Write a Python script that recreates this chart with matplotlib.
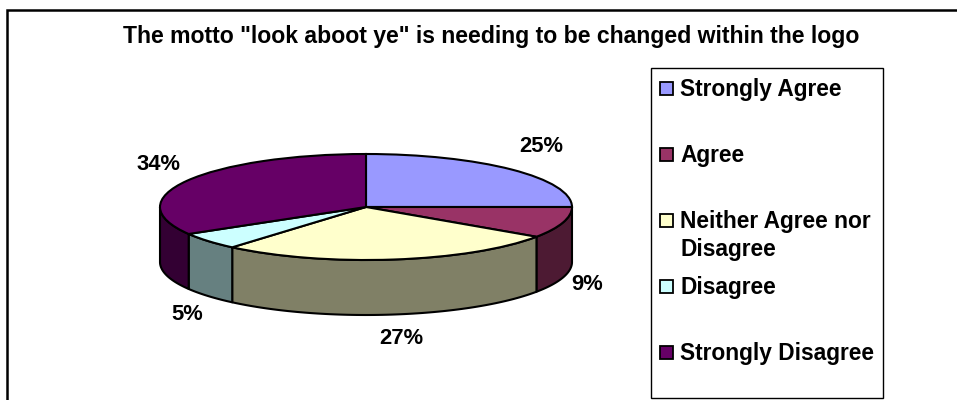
import numpy as np
import matplotlib
matplotlib.use('Agg')
import matplotlib.pyplot as plt
from matplotlib.patches import Rectangle

plt.rcParams['font.family'] = ['Liberation Sans', 'DejaVu Sans']
plt.rcParams['font.weight'] = 'bold'

title = 'The motto "look aboot ye" is needing to be changed within the logo'
categories = ['Strongly Agree', 'Agree', 'Neither Agree nor\nDisagree', 'Disagree', 'Strongly Disagree']
# unrounded shares, labels are the printed ones
values = [25, 9.49, 26.76, 5.25, 33.5]
labels = ['25%', '9%', '27%', '5%', '34%']
top_colors = ['#9999FF', '#993366', '#FFFFCC', '#CCFFFF', '#660066']
side_colors = ['#4D4D80', '#4D1A33', '#808066', '#668080', '#330033']

W, H = 957, 400
cx, cy, rx, ry = 366, 207, 206, 53
depth = 55

fig = plt.figure(figsize=(W/100, H/100), dpi=100)

# overlay in pixel coords for frame, legend, labels
bg = fig.add_axes([0, 0, 1, 1])
bg.set_xlim(0, W)
bg.set_ylim(H, 0)
bg.axis('off')
# frame runs off the right and bottom of the picture
bg.add_patch(Rectangle((7, 10), 1000, 450, fc='white', ec='black', lw=1.8, clip_on=True))

# pie axes, data units = radius of the ellipse, tilted by unequal scaling
ax = fig.add_axes([(cx-rx)/W, 1-(cy+ry+depth)/H, 2*rx/W, (2*ry+depth)/H])
ax.patch.set_alpha(0)
d = depth/ry
wedges, _ = ax.pie(values, startangle=90, counterclock=False, radius=1, center=(0, 0),
                   colors=top_colors, wedgeprops={'edgecolor': 'black', 'linewidth': 1.5},
                   frame=False)
ax.set_aspect('auto')
ax.set_xlim(-1, 1)
ax.set_ylim(-1-d, 1)
ax.axis('off')
for w in wedges:
    w.set_clip_on(False)
    w.set_zorder(3)

# side walls, only the front half of the rim can be seen
edges = np.cumsum([0]+values)*3.6
for i in range(len(values)):
    a0 = max(edges[i], 90)
    a1 = min(edges[i+1], 270)
    if a1 <= a0:
        continue
    t = np.radians(np.linspace(a0, a1, 80))
    x = np.sin(t)
    y = np.cos(t)
    ax.fill(np.r_[x, x[::-1]], np.r_[y, y[::-1]-d], fc=side_colors[i], ec='black',
            lw=1.5, zorder=2, clip_on=False, joinstyle='round')

# data labels
label_x = [541, 587, 401, 187, 159]
label_y = [146, 284, 338, 314, 165]
for lab, lx, ly in zip(labels, label_x, label_y):
    bg.text(lx, ly, lab, ha='center', va='center', fontsize=15.8, color='black')

bg.text(491, 37, title, ha='center', va='center', fontsize=16.6, color='black')

# legend
lg = fig.add_axes([0, 0, 1, 1])
lg.set_xlim(0, W)
lg.set_ylim(H, 0)
lg.axis('off')
lg.patch.set_alpha(0)
lg.add_patch(Rectangle((651, 68), 232, 330, fc='white', ec='black', lw=1))
row_y = [88, 154, 220, 286, 352]
for name, col, ry_ in zip(categories, top_colors, row_y):
    lg.add_patch(Rectangle((659.5, ry_-6.5), 13, 13, fc=col, ec='black', lw=1.3))
    lg.text(680, ry_-10, name, ha='left', va='top', fontsize=16.4, color='black', linespacing=1.3)

fig.savefig('out.png', dpi=100)
